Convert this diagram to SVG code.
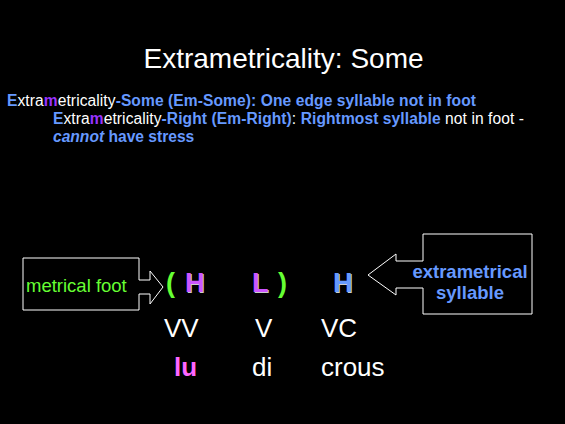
<svg xmlns="http://www.w3.org/2000/svg" width="565" height="424" viewBox="0 0 565 424">
<style>
text{font-family:"Liberation Sans",Arial,sans-serif}
.w{fill:#fff}
.b{fill:#6699ff;font-weight:bold}
.m{fill:#9933ff;font-weight:bold}
.box{fill:none;stroke:#fff;stroke-width:1}
.sh{fill:#cccccc}
</style>
<rect width="565" height="424" fill="#000"/>
<text x="283.5" y="68" font-size="28" text-anchor="middle" class="w">Extrametricality: Some</text>
<g id="bullets" font-size="15.6">
<text x="7" y="106" textLength="469" lengthAdjust="spacing"><tspan class="b">E</tspan><tspan class="w">xtra</tspan><tspan class="m">m</tspan><tspan class="w">etricality</tspan><tspan class="b">-Some (Em-Some): One edge syllable not in foot</tspan></text>
<text x="53" y="123.5" textLength="471" lengthAdjust="spacing"><tspan class="b">E</tspan><tspan class="w">xtra</tspan><tspan class="m">m</tspan><tspan class="w">etricality</tspan><tspan class="b">-Right (Em-Right)</tspan><tspan class="w">: </tspan><tspan class="b">Rightmost syllable</tspan><tspan class="w"> not in foot -</tspan></text>
<text x="53" y="141.5"><tspan class="b" font-style="italic">cannot</tspan><tspan class="b"> have stress</tspan></text>
</g>
<g id="metrical-foot">
<path class="box" d="M23,258 H139 V280 H150 V271 L163,287 L150,304 V294 H139 V310 H23 Z"/>
<text x="26" y="292" font-size="18.5" fill="#66ff33">metrical foot</text>
</g>
<g id="extrametrical-syllable">
<path class="box" d="M532,234 V314 H423 V288 H396 V295 L368,275 L396,254 V261 H423 V234 Z"/>
<text x="470" y="278" font-size="18.5" text-anchor="middle" class="b">extrametrical</text>
<text x="470" y="299" font-size="18.5" text-anchor="middle" class="b">syllable</text>
</g>
<g id="syllables" font-size="27" font-weight="bold">
<text x="166" y="292" fill="#66ff33">(</text>
<text x="186" y="293" class="sh">H</text>
<text x="185" y="292" fill="#cc55ff">H</text>
<text x="253" y="293" class="sh">L</text>
<text x="252" y="292" fill="#cc55ff">L</text>
<text x="278" y="292" fill="#66ff33">)</text>
<text x="334" y="293" class="sh">H</text>
<text x="333" y="292" fill="#6699ff">H</text>
</g>
<g id="skeleton" font-size="26">
<text x="164" y="337" class="w">VV</text>
<text x="255" y="337" class="w">V</text>
<text x="321" y="337" class="w">VC</text>
<text x="174" y="376" font-weight="bold" fill="#ff66ff">lu</text>
<text x="252" y="376" class="w">di</text>
<text x="321" y="376" class="w">crous</text>
</g>
</svg>
